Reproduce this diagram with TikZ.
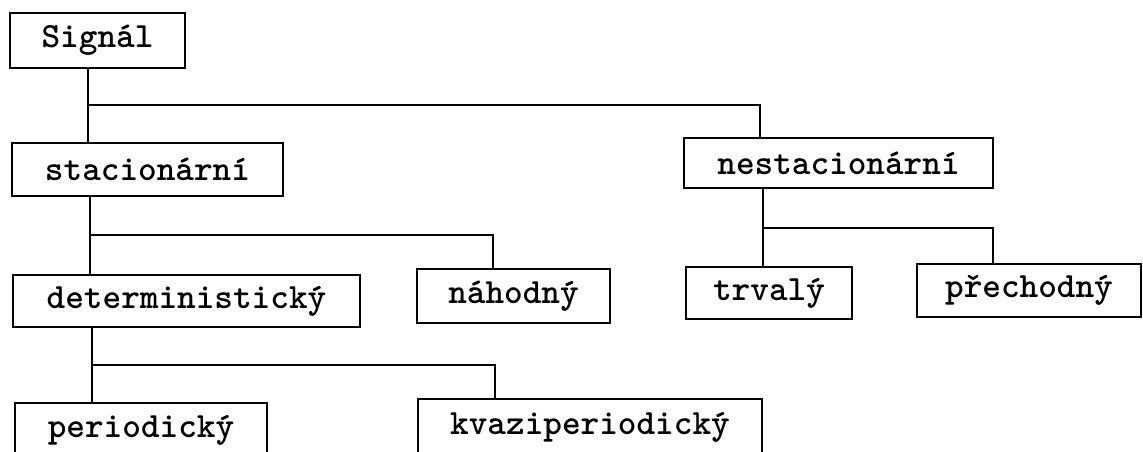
\documentclass[tikz,border=0pt]{standalone}
\begin{document}
\begin{tikzpicture}[x=1pt,y=-1pt,
  box/.style={draw, line width=2.4pt, inner sep=0pt, outer sep=0pt,
    font=\ttfamily\bfseries\fontsize{35.5}{40}\selectfont},
  link/.style={line width=2.4pt}]
\useasboundingbox (0,0) rectangle (1143,452);
\begin{scope}
\clip (0,0) rectangle (1143,452);
\node[box, minimum width=175pt, minimum height=55pt] (signal) at (97.5,40.5) {Signál};
\node[box, minimum width=271pt, minimum height=53pt] (stac) at (147.5,169.5) {stacionární};
\node[box, minimum width=309pt, minimum height=50pt] (nest) at (838.5,163) {nestacionární};
\node[box, minimum width=347pt, minimum height=52pt] (det) at (186.5,301) {deterministický};
\node[box, minimum width=193pt, minimum height=54pt] (nah) at (513.5,296) {náhodný};
\node[box, minimum width=166pt, minimum height=52pt] (trv) at (769,293) {trvalý};
\node[box, minimum width=224pt, minimum height=53pt] (prech) at (1029,290.5) {přechodný};
\node[box, minimum width=252pt, minimum height=54pt] (per) at (141,430) {periodický};
\node[box, minimum width=344pt, minimum height=56pt] (kvazi) at (590,427) {kvaziperiodický};

\coordinate (j1) at (88,105);
\coordinate (j2) at (90,235);
\coordinate (j3) at (763,228);
\coordinate (j4) at (92,365);

\draw[link] (signal.south -| j1) -- (stac.north -| j1);
\draw[link] (j1) -| ([xshift=76pt]nest.north west);
\draw[link] (stac.south -| j2) -- (det.north -| j2);
\draw[link] (j2) -| ([xshift=76pt]nah.north west);
\draw[link] (nest.south -| j3) -- (trv.north -| j3);
\draw[link] (j3) -| ([xshift=76pt]prech.north west);
\draw[link] (det.south -| j4) -- (per.north -| j4);
\draw[link] (j4) -| ([xshift=77pt]kvazi.north west);
\end{scope}
\end{tikzpicture}
\end{document}
